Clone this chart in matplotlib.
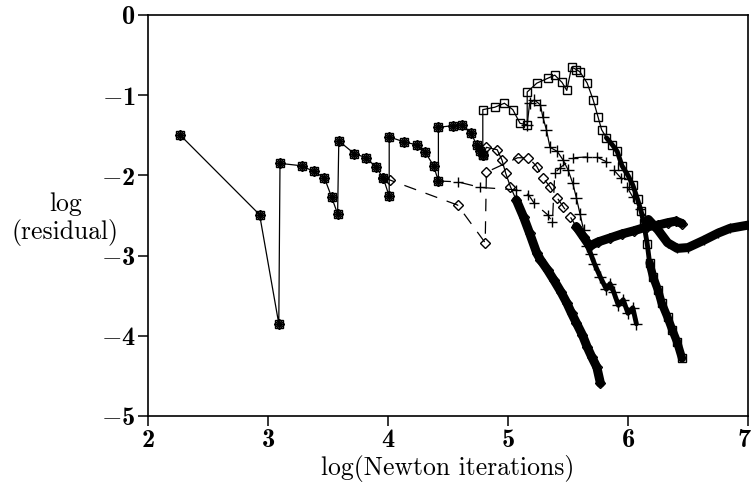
import matplotlib
matplotlib.use("Agg")
import matplotlib.pyplot as plt
import matplotlib.transforms as mtrans

plt.rcParams['mathtext.fontset'] = 'custom'
plt.rcParams['mathtext.rm'] = 'cmb10'
plt.rcParams['mathtext.bf'] = 'cmb10'
plt.rcParams['mathtext.fallback'] = 'cm'
plt.rcParams['font.family'] = ['cmr10', 'DejaVu Serif']

# ---- data ----
# shared sawtooth (all runs coincide here)
common_x = [2.27, 2.93, 3.09, 3.10, 3.28, 3.38, 3.47, 3.53, 3.58, 3.59, 3.72, 3.82, 3.90, 3.96,
            4.01, 4.01, 4.13, 4.24, 4.31, 4.38, 4.42, 4.42, 4.54, 4.62, 4.69, 4.74, 4.77, 4.79]
common_y = [-1.50, -2.49, -3.85, -1.85, -1.88, -1.95, -2.03, -2.27, -2.48, -1.57, -1.73, -1.78, -1.90, -2.03,
            -2.26, -1.52, -1.58, -1.62, -1.71, -1.88, -2.07, -1.40, -1.38, -1.37, -1.47, -1.62, -1.70, -1.75]

# square run
sq_x = [4.79, 4.79, 4.89, 4.97, 5.04, 5.10, 5.16, 5.16, 5.24, 5.33, 5.39, 5.45, 5.49, 5.53, 5.57, 5.60,
        5.66, 5.71, 5.75, 5.78, 5.82, 5.87, 5.91, 5.95, 6.00, 6.04, 6.08, 6.11, 6.13, 6.16, 6.18, 6.21,
        6.25, 6.28, 6.33, 6.37, 6.41, 6.45]
sq_y = [-1.75, -1.18, -1.15, -1.10, -1.18, -1.35, -1.37, -0.96, -0.85, -0.79, -0.75, -0.84, -0.94, -0.65,
        -0.68, -0.71, -0.85, -1.06, -1.27, -1.43, -1.53, -1.62, -1.70, -1.88, -2.00, -2.12, -2.30, -2.45,
        -2.59, -2.85, -3.09, -3.27, -3.43, -3.59, -3.77, -3.93, -4.08, -4.28]

# diamond run (steep tail)
dia_x = [4.79, 4.82, 4.91, 4.95, 4.98, 5.02, 5.07, 5.13, 5.18, 5.24, 5.27, 5.33, 5.38, 5.44, 5.49, 5.53,
         5.57, 5.62, 5.66, 5.70, 5.74, 5.77]
dia_y = [-1.75, -1.65, -1.68, -1.81, -1.97, -2.14, -2.31, -2.52, -2.72, -2.97, -3.05, -3.18, -3.30, -3.45,
         -3.59, -3.72, -3.84, -3.99, -4.14, -4.27, -4.39, -4.59]

# diamond run (dashed, ends in the upper horizontal band)
dd_x = [3.96, 4.02, 4.58, 4.81, 4.82, 5.08, 5.17, 5.24, 5.29, 5.35, 5.41, 5.46, 5.52, 5.57, 5.63, 5.68,
        5.75, 5.85, 5.95, 6.05, 6.16, 6.25, 6.33, 6.40, 6.45]
dd_y = [-2.03, -2.06, -2.37, -2.84, -1.96, -1.78, -1.78, -1.89, -2.03, -2.14, -2.28, -2.39, -2.52, -2.64,
        -2.77, -2.88, -2.83, -2.78, -2.73, -2.69, -2.64, -2.62, -2.59, -2.57, -2.60]

# plus run (jagged tail)
pl_x = [5.16, 5.18, 5.22, 5.27, 5.29, 5.32, 5.35, 5.41, 5.46, 5.50, 5.54, 5.57, 5.60, 5.63, 5.66, 5.69,
        5.72, 5.77, 5.82, 5.85, 5.88, 5.92, 5.96, 6.00, 6.04, 6.07]
pl_y = [-1.37, -1.10, -1.06, -1.12, -1.27, -1.43, -1.65, -1.70, -1.81, -1.93, -2.10, -2.28, -2.48, -2.68,
        -2.88, -2.98, -3.10, -3.27, -3.42, -3.35, -3.45, -3.62, -3.55, -3.72, -3.65, -3.85]

# plus run (dashed, ends in the lower band reaching the right edge)
pd_x = [4.42, 4.58, 4.77, 5.07, 5.17, 5.22, 5.33, 5.37, 5.39, 5.43, 5.54, 5.66, 5.74, 5.82, 5.88, 5.94,
        5.99, 6.04, 6.10, 6.17, 6.25, 6.33, 6.41, 6.50, 6.63, 6.75, 6.85, 7.00]
pd_y = [-2.07, -2.08, -2.15, -2.18, -2.24, -2.35, -2.49, -2.58, -1.97, -1.91, -1.78, -1.77, -1.77, -1.83,
        -1.93, -2.03, -2.14, -2.27, -2.42, -2.55, -2.68, -2.84, -2.91, -2.90, -2.81, -2.72, -2.66, -2.62]

x_ticks = [2, 3, 4, 5, 6, 7]
y_ticks = [0, -1, -2, -3, -4, -5]

# ---- figure ----
fig = plt.figure(figsize=(7.51, 4.93), dpi=100)
ax = fig.add_axes([148 / 751, 1 - 416 / 493, 600 / 751, 401 / 493])

K = 'black'
lw = 0.9
ms_s, ms_d, ms_p = 5.5, 5.5, 7

def mk(x, y, marker, ms, ls='-', thick_from=None, tlw=6):
    ax.plot(x, y, ls=ls, color=K, lw=lw, marker=marker, ms=ms, mfc='none', mec=K, mew=1.0,
            dashes=(10, 8) if ls == '--' else (None, None))
    if thick_from is not None:
        ax.plot(x[thick_from:], y[thick_from:], '-', color=K, lw=tlw, solid_capstyle='round',
                solid_joinstyle='round')

# common sawtooth with overlaid markers
ax.plot(common_x, common_y, '-', color=K, lw=lw)
for m, s in (('s', ms_s), ('D', ms_d), ('+', ms_p), ('o', 3.5)):
    ax.plot(common_x, common_y, ls='none', marker=m, ms=s,
            mfc=K if m == 'o' else 'none', mec=K, mew=1.0)

mk(sq_x, sq_y, 's', ms_s, thick_from=20, tlw=3.5)
ax.plot(sq_x[30:], sq_y[30:], '-', color=K, lw=6, solid_capstyle='round')
mk(dia_x, dia_y, 'D', ms_d, thick_from=6, tlw=6.5)
mk(dd_x, dd_y, 'D', ms_d, ls='--', thick_from=13, tlw=6.5)
mk(pl_x, pl_y, '+', ms_p + 1, thick_from=14, tlw=3.5)
mk(pd_x, pd_y, '+', ms_p, ls='--', thick_from=19, tlw=6.5)

ax.set_xlim(2, 7)
ax.set_ylim(-5, 0)
ax.set_xticks(x_ticks)
ax.set_xticklabels([r'$\mathbf{%d}$' % t for t in x_ticks], fontsize=19)
ax.set_yticks(y_ticks)
ax.set_yticklabels([r'$\mathbf{0}$' if t == 0 else r'$-\mathbf{%d}$' % (-t) for t in y_ticks], fontsize=19)
ax.tick_params(axis='both', direction='out', length=7.5, width=1.1, pad=1.5, color=K)
ax.tick_params(top=False, right=False)
for sp in ax.spines.values():
    sp.set_linewidth(1.2)
    sp.set_color(K)

# keep the last x tick label inside the canvas
last = ax.get_xticklabels()[-1]
last.set_transform(last.get_transform() + mtrans.ScaledTranslation(-4 / 100, 0, fig.dpi_scale_trans))

ax.set_xlabel('log(Newton iterations)', fontsize=18.5, labelpad=2)
ax.text(-0.138, -2.55, 'log\n(residual)', transform=ax.get_yaxis_transform(),
        ha='center', va='center', fontsize=18.5, linespacing=1.15)

fig.savefig('out.png', dpi=100)
